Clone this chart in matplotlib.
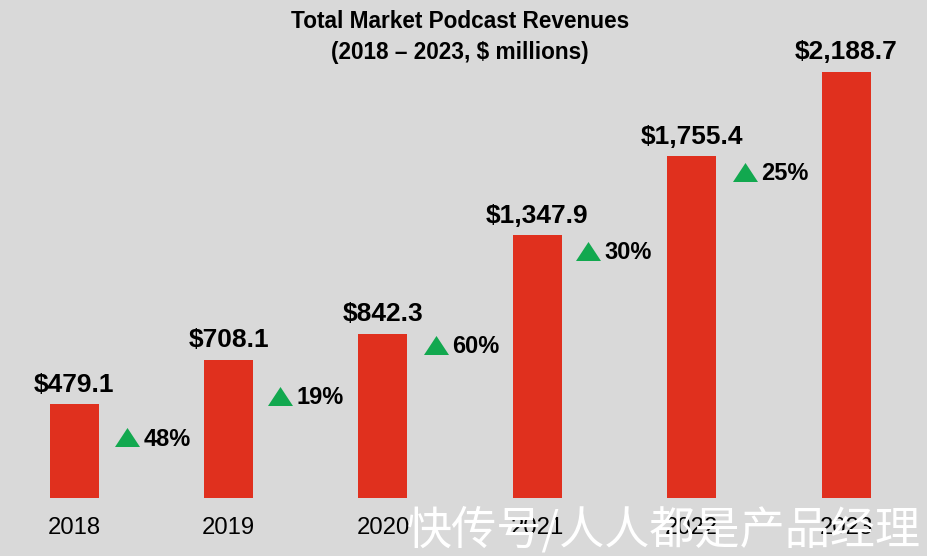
import matplotlib
matplotlib.use("Agg")
import matplotlib.pyplot as plt

years = ["2018", "2019", "2020", "2021", "2022", "2023"]
revenues = [479.1, 708.1, 842.3, 1347.9, 1755.4, 2188.7]
value_labels = ["$479.1", "$708.1", "$842.3", "$1,347.9", "$1,755.4", "$2,188.7"]
growth_labels = ["48%", "19%", "60%", "30%", "25%"]

# where the growth markers sit, relative to the bar on their left
growth_y = [311, 524, 786, 1269, 1675]
growth_dx = [0.345, 0.333, 0.343, 0.327, 0.343]

BG = "#d9d9d9"
RED = "#e0301e"
GREEN = "#12a84f"
TRIANGLE = [(-1, -0.76), (1, -0.76), (0, 0.76), (-1, -0.76)]

plt.rcParams["font.family"] = ["Liberation Sans", "DejaVu Sans"]

fig = plt.figure(figsize=(9.28, 5.56), dpi=100, facecolor=BG)
ax = fig.add_axes([0, 0.105, 1, 0.766], facecolor=BG)

x = range(len(years))
ax.bar(x, revenues, width=0.317, color=RED)
ax.set_xlim(-0.48, 5.53)
ax.set_ylim(0, 2188.7)
ax.axis("off")

for i, year in enumerate(years):
    ax.text(i, -155, year, ha="center", va="center", fontsize=17.2, color="black")
    ax.text(i, revenues[i] + 100, value_labels[i], ha="center", va="center",
            fontsize=19, fontweight="bold", color="black")

for i, label in enumerate(growth_labels):
    ax.plot(i + growth_dx[i], growth_y[i], marker=TRIANGLE, markersize=18, color=GREEN,
            clip_on=False, markeredgewidth=0)
    ax.text(i + growth_dx[i] + 0.105, growth_y[i] - 10, label, ha="left", va="center",
            fontsize=17, fontweight="bold", color="black")

fig.text(0.496, 0.962, "Total Market Podcast Revenues", ha="center", va="center",
         fontsize=16.3, fontweight="bold", color="black")
fig.text(0.496, 0.906, "(2018 – 2023, $ millions)", ha="center", va="center",
         fontsize=16.3, fontweight="bold", color="black")

# watermark along the bottom edge, drawn over the year labels
fig.text(0.992, 0.046, "快传号/人人都是产品经理", ha="right", va="center", fontsize=32.5,
         color="white", family=["Noto Sans CJK SC", "DejaVu Sans"], zorder=10)

fig.savefig("out.png", dpi=100, facecolor=BG)
